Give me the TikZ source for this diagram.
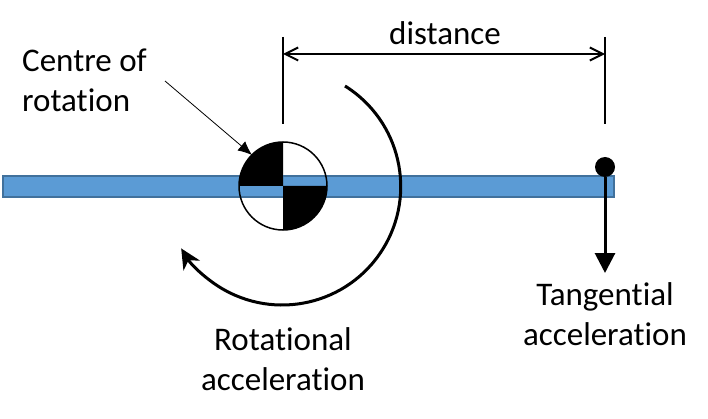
\documentclass[tikz,border=0pt]{standalone}
\usepackage{fontspec}
\setmainfont[RawFeature={-liga;-clig;-calt;-dlig}]{Carlito}
\usetikzlibrary{arrows.meta}
\definecolor{barblue}{HTML}{5B9BD5}
\definecolor{baredge}{HTML}{41719C}
\tikzset{
  lbl/.style={font=\fontsize{33}{40}\selectfont,align=center,inner sep=0pt,text=black},
  dim/.style={line width=2pt,black},
  dimarrow/.style={dim,{Straight Barb[length=13pt,width=13pt,line width=2pt]}-{Straight Barb[length=13pt,width=13pt,line width=2pt]}},
}
\begin{document}
\begin{tikzpicture}[x=1pt,y=-1pt]
\useasboundingbox (0,0) rectangle (708,419);
\fill[white] (0,0) rectangle (708,419);
\node[draw=baredge,fill=barblue,line width=1.2pt,minimum width=611pt,minimum height=21pt,inner sep=0pt,outer sep=0pt] (bar) at (308.5,186.5) {};
\coordinate (c) at (283,186);
\fill[white] (c) circle[radius=44pt];
\fill[barblue] (283,176.5) rectangle (326.5,186);
\fill[barblue] (239.5,186) rectangle (283,196.5);
\fill[black] (c) -- (239,186) arc[start angle=180,end angle=90,radius=44pt] -- cycle;
\fill[black] (c) -- (327,186) arc[start angle=0,end angle=-90,radius=44pt] -- cycle;
\draw[baredge,line width=1.2pt] (283,176) -- (326,176);
\draw[baredge,line width=1.2pt] (240,197) -- (283,197);
\node[circle,draw=black,line width=1.5pt,minimum size=88pt,inner sep=0pt,outer sep=0pt] (hub) at (c) {};
\coordinate (e1t) at (283,37); \coordinate (e1b) at (283,124);
\coordinate (e2t) at (605,37); \coordinate (e2b) at (605,124);
\draw[dim] (e1t) -- (e1b);
\draw[dim] (e2t) -- (e2b);
\coordinate (d1) at (283,54); \coordinate (d2) at (605,54);
\draw[dimarrow] (d1) -- (d2);
\node[lbl] (dist) at (445,33) {distance};
\node[lbl,align=left,anchor=west] (cor) at (22,80) {Centre of\\rotation};
\coordinate (lead) at (165,81);
\draw[line width=0.8pt,black,-{Latex[length=14pt,width=12pt]}] (lead) -- (252,155);
\coordinate (arcstart) at (345,86);
\draw[line width=3pt,black,-{Stealth[length=20pt,width=19pt,inset=6pt]}] (arcstart) arc[start angle=58,end angle=-148.5,radius=118.5pt];
\node[lbl] (rot) at (283,359) {Rotational\\acceleration};
\node[circle,fill=black,minimum size=20pt,inner sep=0pt,outer sep=0pt] (pt) at (605,167) {};
\coordinate (tan) at (605,273);
\draw[line width=3pt,black,-{Triangle[length=20pt,width=20pt]}] (pt) -- (tan);
\node[lbl] (tang) at (605,314) {Tangential\\acceleration};
\end{tikzpicture}
\end{document}
